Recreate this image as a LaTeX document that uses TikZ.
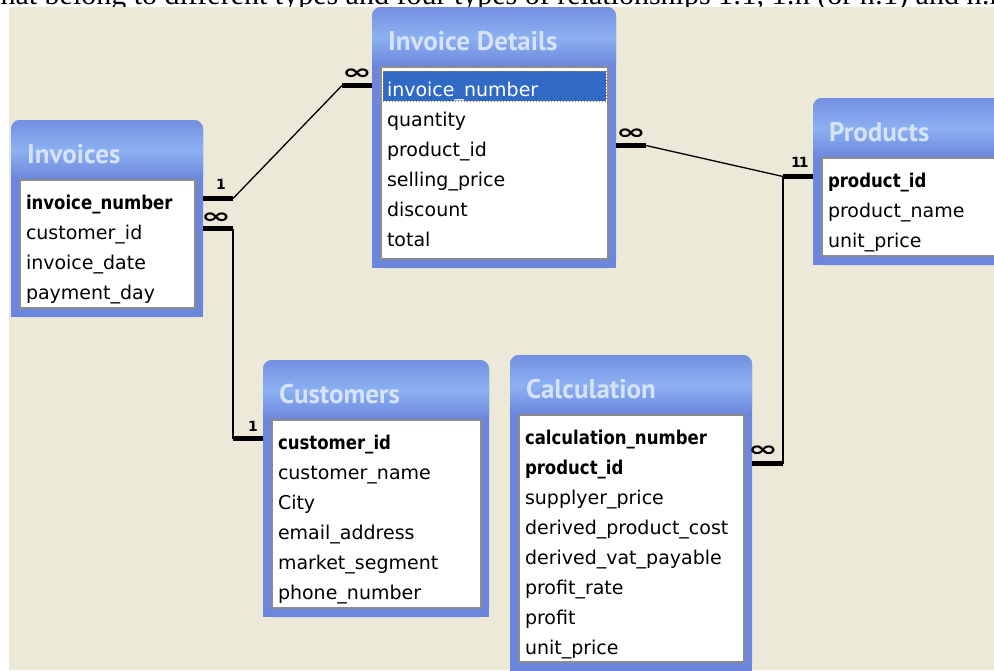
\documentclass[tikz,border=0pt]{standalone}
\usepackage{fontspec}
\setmainfont{DejaVu Sans}
\newfontfamily\keyfont[FakeStretch=0.87]{DejaVu Sans}
\newfontfamily\cardfont[FakeStretch=1.7]{DejaVu Sans}
\newfontfamily\capfont{PT Sans}
\newfontfamily\serifline{Liberation Serif}
\usetikzlibrary{positioning,calc}
\definecolor{desk}{HTML}{ECE9D8}
\definecolor{cFrame}{HTML}{6B86DC}
\definecolor{cBarTop}{HTML}{7490E2}
\definecolor{cBarMid}{HTML}{8CB0F1}
\definecolor{cCap}{HTML}{D6E2F8}
\definecolor{cList}{HTML}{8C8C8C}
\definecolor{cSel}{HTML}{316AC5}
\definecolor{cFocus}{HTML}{B08A30}
\tikzset{
  pageline/.style={anchor=base west,inner sep=0pt,font=\serifline\fontsize{30}{30}\selectfont},
  win/.style={inner sep=0pt,outer sep=0pt,anchor=north west},
  titlebar/.style={top color=cBarTop,bottom color=cFrame,middle color=cBarMid,rounded corners=9pt},
  listbox/.style={fill=white,draw=cList,line width=1.5pt,inner sep=0pt,outer sep=0pt,anchor=north west},
  caption/.style={anchor=base west,inner sep=0pt,text=cCap,font=\capfont\bfseries\fontsize{27}{27}\selectfont},
  field/.style={anchor=base west,inner sep=0pt,outer sep=0pt,text height=21pt,text depth=0pt,font=\fontsize{19}{19}\selectfont},
  keyfield/.style={field,font=\keyfont\bfseries\fontsize{19}{19}\selectfont},
  picked/.style={field,text=white},
  selrow/.style={fill=cSel,draw=cFocus,dotted,line width=1pt},
  stub/.style={line width=4.5pt},
  rel/.style={line width=2pt},
  card/.style={inner sep=0pt,font=\bfseries\fontsize{14}{14}\selectfont},
  many/.style={inner sep=0pt,font=\cardfont\bfseries\fontsize{21}{21}\selectfont},
}
\begin{document}
\begin{tikzpicture}[x=1pt,y=-1pt]
  \useasboundingbox (0,0) rectangle (994,670);
  \clip (0,0) rectangle (994,670);
  % cut line of the page text above the screenshot
  \node[pageline] (pageline) at (-8,4) {that belong to different types and four types of relationships 1:1, 1:n (or n:1) and n:n};
  \fill[desk] (9,7) rectangle (994,670);

  % table windows: name/x/y/width/height
  \foreach \tb/\x/\y/\w/\h in {invoices/11/120/192/197,details/372/7/244/261,
      products/813/98/200/167,customers/263/360/226/257,calc/510/355/242/316}{
    \node[win,minimum width=\w,minimum height=\h] (\tb) at (\x,\y) {};
    \fill[cFrame,rounded corners=9pt] (\tb.north west) rectangle (\tb.south east);
    \fill[cFrame] (\tb.west) rectangle (\tb.south east);
    \shade[titlebar] (\tb.north west) rectangle ($(\tb.north east)+(0,60)$);
    \node[listbox,minimum width=\w-17,minimum height=\h-69] (\tb-list) at ($(\tb.north west)+(9,60)$) {};
  }

  \node[caption] (invoices-title) at ($(invoices.north west)+(16,43.5)$) {Invoices};
  \node[caption] (details-title) at ($(details.north west)+(16,43.5)$) {Invoice Details};
  \node[caption] (products-title) at ($(products.north west)+(16,43.5)$) {Products};
  \node[caption] (customers-title) at ($(customers.north west)+(16,43.5)$) {Customers};
  \node[caption] (calc-title) at ($(calc.north west)+(16,43.5)$) {Calculation};

  % fields
  \foreach \f/\s [count=\i] in {invoice\_number/keyfield,customer\_id/field,invoice\_date/field,payment\_day/field}
    \node[\s] (invoices-\i) at ($(invoices-list.north west)+(6,30*\i-1)$) {\f};
  \filldraw[selrow] ($(details-list.north west)+(2,4)$) rectangle ($(details-list.north east)+(-2,34)$);
  \foreach \f/\s [count=\i] in {invoice\_number/picked,quantity/field,product\_id/field,selling\_price/field,discount/field,total/field}
    \node[\s] (details-\i) at ($(details-list.north west)+(6,30*\i-1)$) {\f};
  \foreach \f/\s [count=\i] in {product\_id/keyfield,product\_name/field,unit\_price/field}
    \node[\s] (products-\i) at ($(products-list.north west)+(6,30*\i-1)$) {\f};
  \foreach \f/\s [count=\i] in {customer\_id/keyfield,customer\_name/field,City/field,email\_address/field,market\_segment/field,phone\_number/field}
    \node[\s] (customers-\i) at ($(customers-list.north west)+(6,30*\i-1)$) {\f};
  \foreach \f/\s [count=\i] in {calculation\_number/keyfield,product\_id/keyfield,supplyer\_price/field,derived\_product\_cost/field,
      derived\_vat\_payable/field,profit\_rate/field,profit/field,unit\_price/field}
    \node[\s] (calc-\i) at ($(calc-list.north west)+(6,30*\i-1)$) {\f};

  % relationships
  \draw[stub] (invoices.east |- invoices-1) -- ++(30,0) coordinate (r1a);
  \draw[stub] (details.west |- details-1) -- ++(-30,0) coordinate (r1b);
  \draw[rel,line width=1.3pt] (r1a) -- (r1b);
  \draw[stub] (invoices.east |- invoices-2) -- ++(30,0) coordinate (r2a);
  \draw[stub] (customers.west |- customers-1) -- ++(-30,0) coordinate (r2b);
  \draw[rel] (r2a) -- (r2b);
  \draw[stub] (details.east |- details-3) -- ++(30,0) coordinate (r3a);
  \draw[stub] (products.west |- products-1) -- ++(-30,0) coordinate (r3b);
  \draw[rel,line width=1.3pt] (r3a) -- (r3b);
  \draw[stub] (calc.east |- calc-2) -- ++(31,0) coordinate (r4a);
  \draw[rel] (r3b) -- (r4a);

  \node[card,above left=9pt and 7pt of r1a] (c1) {1};
  \node[many,above left=5pt and 2pt of r2a] (m1) {∞};
  \node[many,above right=6pt and 0pt of r1b] (m2) {∞};
  \node[card,above right=7pt and 15pt of r2b] (c2) {1};
  \node[many,above left=6pt and 0pt of r3a] (m3) {∞};
  \node[card,above right=9pt and 8pt of r3b] (c3) {1\kern-2pt1};
  \node[many,above left=7pt and 5pt of r4a] (m4) {∞};
\end{tikzpicture}
\end{document}
